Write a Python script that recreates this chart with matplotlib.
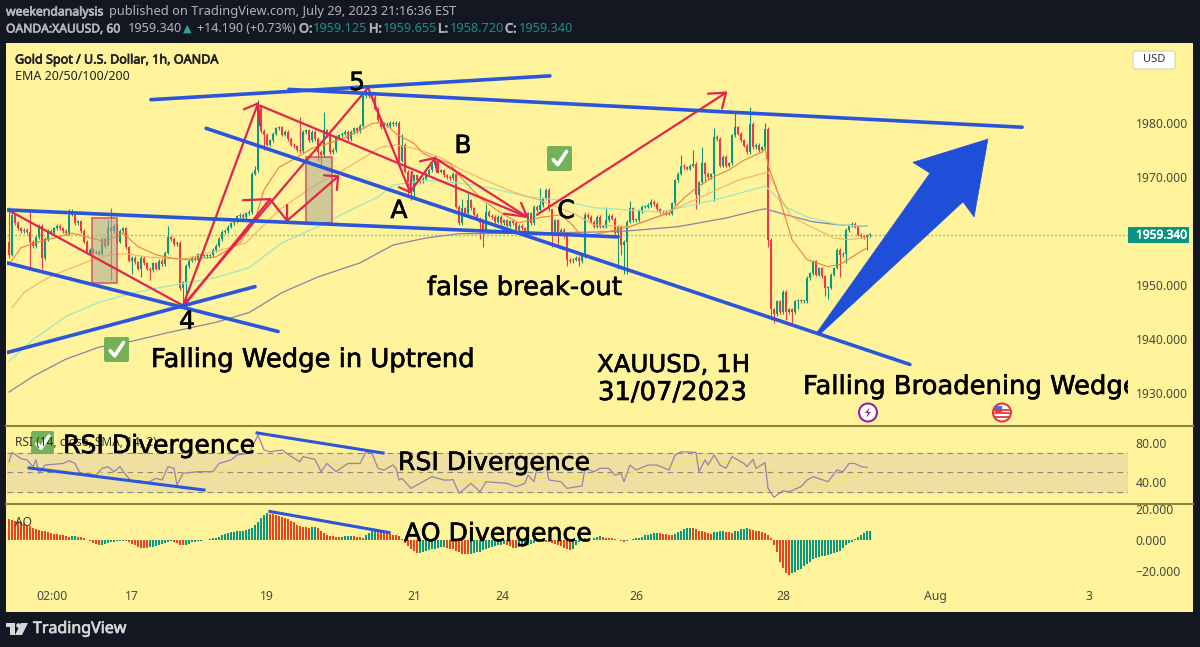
#!/usr/bin/env python
"""
XAUUSD 1h TradingView snapshot with wedge drawings, RSI and AO panes
"""
import matplotlib
matplotlib.use("Agg")
import matplotlib.pyplot as plt
import matplotlib.patheffects as pe
from matplotlib.patches import Rectangle, Polygon, Circle, FancyBboxPatch

closes = [
    1955.6,1963,1961.5,1960.5,1960,1960.2,1959.8,1958,1957.2,1958.8,
    1961,1955,1958.5,1960,1959.7,1960.5,1961,1960.5,1960,1959.6,
    1963,1963.2,1961.5,1961.8,1960,1958,1956,1956.5,1956,1956.2,
    1955.8,1958.5,1957.2,1960.5,1960,1961,1958,1960,1960.5,1957,
    1954.5,1955,1954.2,1953,1955,1954,1953,1952.8,1954,1953,
    1954.5,1953.8,1956,1958.8,1958.5,1957.6,1957.8,1949.5,1950.5,1953.5,
    1954.5,1955,1954.7,1955.7,1955.4,1955.4,1955.3,1955.5,1956.5,1957.3,
    1958.5,1959.8,1960,1960.8,1961.4,1961.7,1962.7,1963,1962.6,1963.3,
    1963.5,1970.6,1971.3,1983.2,1978.5,1977.8,1976,1976.8,1978,1979,
    1979.2,1977.8,1978.3,1977,1976,1975.7,1975,1974.8,1978.3,1978.6,
    1976.8,1978.3,1977,1974.6,1974,1978.6,1977.7,1974.6,1975,1977.4,
    1977.7,1978,1978.3,1977,1978.3,1979,1978.5,1979.5,1985,1985.5,
    1985,1984.8,1982.6,1980.5,1979.2,1979.8,1979.5,1980,1979.8,1980,
    1973,1976,1971,1967.9,1967.3,1970.3,1969.4,1969.2,1969.7,1970.6,
    1971.2,1972.2,1973,1971,1971.2,1970.3,1970,1969.8,1970.6,1964.5,
    1961.4,1964.2,1963.3,1965.7,1964.2,1963,1962.3,1961.4,1960.2,1963.6,
    1962.8,1962.6,1961.7,1962.6,1961.4,1962,1961,1961.8,1961.5,1960.2,
    1961,1960.5,1959.9,1963.3,1961.5,1964.5,1963.8,1964.8,1966,1967.6,
    1964,1959.3,1962,1959.3,1960.2,1959,1954.7,1954.4,1954.7,1955,
    1954.4,1955.3,1963,1962.6,1961.7,1960.8,1962.6,1960.8,1960.8,1962,
    1962.8,1962.3,1959.6,1960.8,1957.4,1958,1961.7,1964.2,1962,1962,
    1963.7,1964.5,1964.5,1964.8,1965.4,1965,1964,1963.5,1963.5,1963.2,
    1963.2,1965.1,1969.4,1970.6,1972.1,1971.8,1971.5,1972.1,1972.4,1966.6,
    1969,1972.5,1970.6,1970,1970.5,1977.4,1977,1972.1,1973.7,1972.1,
    1972.5,1977.7,1979.2,1978,1976.8,1975.8,1974.6,1979.8,1975.5,1976,
    1975,1975.5,1978.9,1958.4,1945.5,1944.6,1947,1945,1948.8,1945,
    1945.5,1945,1947,1947.2,1947,1947,1951.3,1952.2,1954.4,1951.9,
    1953.1,1951.6,1949.5,1949.5,1951.9,1953.1,1956.5,1955.5,1955.8,1960.2,
    1961,1961.3,1960.8,1959.3,1959,1958.8,1959.2,1959.34,
]
# the long wicks, by bar number
wick_highs = {0:1964.5,1:1964.3,7:1963.9,20:1964,21:1964,33:1962,34:1964.3,53:1961,
    82:1972,83:1984.2,84:1982,97:1981,105:1982,119:1986,120:1986.5,121:1985.5,
    131:1978,142:1974,151:1966,153:1967,159:1965,177:1968,179:1968,181:1961,
    192:1963.5,199:1964.5,207:1965.5,214:1966,224:1974,228:1975,231:1975.5,
    235:1979,242:1982,247:1983,252:1980}
wick_lows = {0:1955,7:1952.8,11:1953,33:1958,34:1951,41:1952,44:1951.5,47:1951,
    57:1949,58:1946.5,59:1946.2,85:1975,103:1973,104:1972,133:1966.5,134:1965.8,
    135:1966,157:1958.5,158:1957,181:1957,183:1957,186:1953.5,190:1953.5,
    203:1953,204:1955.5,205:1952,206:1952,229:1964,230:1965,232:1969,235:1965.5,
    253:1957,254:1943.5,255:1943,259:1943.5,261:1943,263:1945.5,272:1948,
    273:1947.5,276:1953,277:1951.5,279:1954,286:1956.5}

ema20_bar = [0,4,10,15,21,26,32,38,43,49,54,59,69,77,82,85,90,96,101,110,117,121,125,129,135,138,141,147,149,154,158,164,170,177,184,188,191,199,207,216,220,225,229,234,240,245,251,252,253,256,261,266,273,277,286]
ema20 = [1953.8,1956.9,1958,1958.7,1959.6,1958.9,1958,1959.6,1957.1,1955.6,1955,1954.7,1955.2,1957.8,1962,1967.6,1971.8,1973.6,1975.3,1976.8,1978.6,1979.9,1980.1,1978,1976.2,1974.4,1973.6,1972.5,1970.9,1967.9,1965.7,1963.3,1961.5,1962.5,1963,1961,1958.9,1959.8,1960.8,1962.6,1963.3,1966.1,1967.9,1969.8,1971.3,1973.1,1974.6,1975.3,1972.2,1967.6,1958.4,1954.7,1953.4,1953.8,1956.9]
ema50_bar = [1,5,10,15,21,28,34,39,46,54,59,75,79,90,101,113,124,129,135,144,150,157,168,177,188,195,207,216,230,243,253,257,261,268,275,279,286]
ema50 = [1945.8,1948.6,1950.4,1951.9,1953.2,1954.7,1955.6,1955.8,1955.2,1954.9,1954.9,1957.1,1957.8,1963.9,1968.1,1971.8,1975.5,1975.9,1975.3,1973.6,1971.6,1969.8,1967.2,1965.7,1963.3,1961.1,1960.8,1962.6,1966.1,1969.4,1970.9,1966.3,1962.6,1960.6,1958.7,1958.4,1958.7]
ema100_bar = [0,8,19,30,39,47,56,69,80,91,103,114,123,128,139,150,161,173,184,195,206,217,228,239,252,253,259,266,277,286]
ema100 = [1935.9,1939.9,1944.2,1946.8,1948.2,1949.2,1950.1,1951.4,1953.2,1957.8,1960.8,1963.9,1966.3,1968.5,1969.4,1968.9,1967.9,1966.3,1965.7,1964.3,1963.9,1963.5,1964.8,1966.3,1968.3,1967.9,1964.4,1962.6,1961.1,1960.9]
ema200_bar = [0,8,19,30,41,53,69,80,91,103,117,128,139,150,173,195,206,223,239,250,252,259,268,277,286]
ema200 = [1930.2,1933.1,1936.3,1938.5,1939.6,1941.2,1943.1,1944.9,1948.6,1951.5,1954.1,1957.4,1958.7,1959.5,1959.6,1959.8,1960,1960.8,1962.4,1963.9,1964.1,1963,1961.7,1961.1,1960.9]

rsi_bar = [0,1,4,6,8,9,10,12,18,20,22,24,26,29,31,33,35,37,39,41,44,46,49,51,53,55,56,58,63,68,70,74,76,80,83,85,87,91,95,97,98,102,104,106,109,113,117,119,121,123,125,128,129,130,131,134,137,141,145,
    147,148,150,154,157,159,166,169,172,173,175,176,179,180,184,186,191,192,195,197,200,202,204,205,207,209,213,216,220,222,224,229,230,232,233,235,237,239,241,245,246,248,249,252,253,255,258,260,264,266,268,273,276,278,280,282,284,286]
rsi = [60.8,70.4,64,62.6,55.7,62.6,48.9,57.4,59,61.9,59,47,48.9,47,54,55.7,50.6,55.7,47,40.3,41,39.3,43.7,42,55.7,54,36.9,48.9,50.6,50.6,59,62.6,67.7,69.4,88.2,72.8,71,72.8,64.3,60.8,66,63.2,50.6,59,50.6,59,59,71,69.4,54,52.3,57.4,54,42,43.7,33.5,38.6,45.5,42,
    42,42.7,28.4,38.6,30,40.3,38.6,35.2,38.6,47,40.3,54,55.7,42,40.3,33.5,35.9,54,50.6,54,54,47,48.9,40.3,57.4,52.3,57.4,57.4,52.3,67.7,71,70.4,50.6,62.6,57.4,67.7,57.4,54,66,59,55.7,63.2,54,59.8,33.5,24.3,31,30,35.2,42,45.5,40.3,52.3,50.6,59,59,55.7,55]
rsi_ma_bar = [0,20,50,58,75,85,95,110,120,130,145,165,180,192,205,215,228,240,252,256,262,272,286]
rsi_ma = [58,52,44,46,52,62,65,58,60,54,43,40,45,43,48,54,62,60,58,50,36,37,50]

ao = [
    13.5,13,12.5,12,11.5,11,10,9,8,7,6.5,6,5.5,5,4.5,4,3.8,3.5,3,2.5,
    2.2,2.4,2.5,2.2,1.8,1,0.3,-0.8,-1.8,-2.8,-3.2,-3,-2.5,-2,-1.5,-1,-0.8,-0.7,-0.5,-0.8,
    -1.5,-2.5,-3.5,-4.5,-5,-5.2,-5.3,-4.8,-4.5,-4,-3.5,-2.5,-1.8,-1,-0.5,-1,-2,-3,-3.2,-3,
    -2.5,-1.5,-1,-0.6,-0.4,-0.2,0.2,0.5,1,1.5,2.2,3,3.8,4.5,5,5.3,5.5,5.8,6,6.2,
    7,8,9.5,11.5,14,16,17.5,17,16.5,16,15.5,15,14.5,13.5,12.5,11.5,10,9,8.5,8.2,
    8,8.2,8.4,7.5,6,4.5,3.5,2.8,2.5,2.2,2,2,2.3,2.5,2.8,2.5,2,1.8,1.5,3,
    4.5,6,6.2,5.8,5.5,5,4.5,4,3.5,3,2.5,0.5,-2,-4,-5.5,-7,-8.5,-8.3,-7.5,-7,
    -6.5,-6,-5.5,-5,-4.5,-4.5,-5,-5.5,-6,-7,-8,-9,-9.2,-9.3,-9,-8.5,-8,-7.5,-6.5,-5.5,
    -5,-4.5,-4,-3.2,-3,-2.5,-3,-4,-5,-5.3,-4.5,-4,-3.5,-3,-2.5,-2,-1.5,-1,-1,-1.2,
    -1.5,-2,-2.5,-3,-4,-5,-6,-6.5,-5.5,-3,-1.5,0.2,1.5,-1,0,1.3,2,2.3,1.8,1.5,
    1.2,1,0.8,0.2,-0.5,-1,-0.8,0,0.5,1,1.5,2,3,3.5,4,4.5,4.8,4.5,4,3.8,
    3.5,3,3.8,5,6,7,7.5,7.8,7.5,7,6,5.5,5,4.5,4,5,5.3,5.5,5.5,5.2,
    5,4.8,5.5,6,6.8,7.2,7.5,7,6.5,6,5.5,5,4.5,3,1,-3,-8,-14,-18,-21,
    -22.5,-21.5,-20.5,-19.5,-18.5,-17,-15.5,-14,-12.5,-11.5,-11,-10.5,-10,-9.5,-9,-8.5,-8,-7,-5,-3.5,
    -2,-1,0.5,2,3,4.5,5.5,6,
]

price_ticks = [1980,1970,1950,1940,1930]
price_labels = ["1980.000","1970.000","1950.000","1940.000","1930.000"]
rsi_ticks = [80,40]
rsi_labels = ["80.00","40.00"]
ao_ticks = [20,0,-20]
ao_labels = ["20.000","0.000","\u221220.000"]
time_ticks = [14.3,41,86,135,164.3,209,258.3,308.7,360]
time_labels = ["02:00","17","19","21","24","26","28","Aug","3"]
last_price = 1959.34

# trendlines as (bar, price) ends
blue_lines = [
    [(47.3,1984.3),(180.3,1988.7)],
    [(93.3,1986.2),(337.7,1979.2)],
    [(65.7,1979),(300.3,1935.3)],
    [(-0.7,1963.9),(203,1958.9)],
    [(-0.7,1954.1),(89.7,1941.4)],
    [(-0.7,1937.5),(82,1949.7)],
]
red_lines = [
    [(-0.7,1964),(58,1946.2)],
    [(58,1946.2),(83,1983.6)],
    [(78.3,1982.5),(83,1983.6),(83.7,1979.5)],
    [(83.7,1983.2),(172.7,1962.6)],
    [(58,1946.2),(119.7,1986.5)],
    [(58.4,1946.2),(87,1965.9)],
    [(78,1965.7),(87,1965.9),(92.7,1961.9)],
    [(92.7,1964.8),(92.7,1961.9),(109.7,1970.1)],
    [(105,1970.3),(109.7,1970.1),(109.3,1967.6)],
    [(119.7,1986.5),(133.7,1967.2)],
    [(130,1968.1),(133.7,1967.2),(134.3,1970.9)],
    [(133.7,1967.2),(142,1973.5)],
    [(137,1972.9),(142,1973.5),(142.7,1970.9)],
    [(142,1973.5),(172.7,1962.6)],
    [(170.7,1965.2),(172.7,1962.6),(165,1963.2)],
    [(176,1963),(239,1985.6)],
    [(233,1985.4),(239,1985.6),(237.7,1982.7)],
]
boxes = [(27.7,36,1950.4,1962.4),(99,107.7,1961.5,1973.6)]
big_arrow = [(269.3,1941.2),(307,1970.7),(301.3,1972.7),(326.3,1977),(321.7,1962.6),(318,1965.4),(270.3,1940.9)]
rsi_blue = [[(6.7,54.4),(65,31.8)],[(82.7,90.3),(124.7,69.7)]]
ao_blue = [[(87,18.4),(126.7,4.8)]]

BG = "#131722"
PANEL = "#FFF39C"
UP = "#089981"
DOWN = "#F23645"
BLUE = "#2B55DA"
CRIMSON = "#E0254F"
AXTXT = "#4A4A3C"

fig = plt.figure(figsize=(12,6.47),dpi=100,facecolor=BG)
plt.rcParams["font.family"] = ["Noto Sans","DejaVu Sans"]

def pane(left,top,right,bottom):
    return fig.add_axes([left/1200,1-bottom/647,(right-left)/1200,(bottom-top)/647])

# yellow chart area sits under every pane
bg = pane(6,43,1193,612)
bg.set_facecolor(PANEL)
bg.set_xticks([])
bg.set_yticks([])
for s in bg.spines.values():
    s.set_visible(False)

XLIM = (-0.667,373)

# price pane
ax = pane(7,44,1128,425)
ax.set_facecolor("none")
ax.set_xlim(XLIM)
ax.set_ylim(1924.1,1994.6)
for i,c in enumerate(closes):
    o = closes[i-1] if i>0 else 1958
    col = UP if c>=o else DOWN
    hi = wick_highs.get(i,max(o,c)+0.3)
    lo = wick_lows.get(i,min(o,c)-0.3)
    ax.vlines(i,lo,hi,color=col,lw=0.8,zorder=2)
    ax.bar(i,max(abs(c-o),0.2),bottom=min(o,c),width=0.85,color=col,zorder=3)
ax.plot(ema200_bar,ema200,color="#8C80A8",lw=0.9,zorder=4)
ax.plot(ema100_bar,ema100,color="#9BE8C2",lw=0.9,zorder=4)
ax.plot(ema50_bar,ema50,color="#F5B06A",lw=0.8,zorder=4)
ax.plot(ema20_bar,ema20,color="#F0803F",lw=0.8,zorder=4)
ax.axhline(last_price,color="#4E9A6E",lw=0.9,ls=(0,(1,2.2)),zorder=2)
for x0,x1,y0,y1 in boxes:
    ax.add_patch(Rectangle((x0,y0),x1-x0,y1-y0,facecolor="#A8A892",alpha=0.55,edgecolor="none",zorder=4))
    ax.add_patch(Rectangle((x0,y0),x1-x0,y1-y0,facecolor="none",edgecolor="#D5506A",lw=1.1,zorder=5))
for path in red_lines:
    ax.plot([p[0] for p in path],[p[1] for p in path],color=CRIMSON,lw=1.6,zorder=6,solid_capstyle="round")
for path in blue_lines:
    ax.plot([p[0] for p in path],[p[1] for p in path],color=BLUE,lw=2.6,zorder=7,solid_capstyle="round")
ax.add_patch(Polygon(big_arrow,closed=True,facecolor="#1F4FD8",edgecolor="#1F4FD8",lw=0.5,zorder=7))
ax.set_xticks([])
ax.yaxis.tick_right()
ax.set_yticks(price_ticks)
ax.set_yticklabels(price_labels,fontsize=8.8,color=AXTXT)
ax.tick_params(axis="y",length=0,pad=5.5)
for s in ax.spines.values():
    s.set_visible(False)

# rsi pane
ax2 = pane(7,427,1128,503)
ax2.set_facecolor("none")
ax2.set_xlim(XLIM)
ax2.set_ylim(80-(503-443)/0.975,80+(443-427)/0.975)
ax2.axhspan(30,70,color="#EFE0A2",zorder=1)
for lev in [70,50,30]:
    ax2.axhline(lev,color="#8A8A70",lw=0.8,ls=(0,(5,4)),zorder=2)
ax2.plot(rsi_ma_bar,rsi_ma,color="#F3E36A",lw=1.0,zorder=3)
ax2.plot(rsi_bar,rsi,color="#9A80AE",lw=0.9,zorder=4)
for path in rsi_blue:
    ax2.plot([p[0] for p in path],[p[1] for p in path],color=BLUE,lw=2.2,zorder=5)
ax2.set_xticks([])
ax2.yaxis.tick_right()
ax2.set_yticks(rsi_ticks)
ax2.set_yticklabels(rsi_labels,fontsize=8.8,color=AXTXT)
ax2.tick_params(axis="y",length=0,pad=5.5)
for s in ax2.spines.values():
    s.set_visible(False)

# ao pane
ax3 = pane(7,505,1128,580)
ax3.set_facecolor("none")
ax3.set_xlim(XLIM)
ax3.set_ylim(-(580-540)/1.55,(540-505)/1.55)
for i,v in enumerate(ao):
    col = UP if i>0 and v>=ao[i-1] else "#F0401E"
    ax3.bar(i,v,width=0.62,color=col,zorder=3)
for path in ao_blue:
    ax3.plot([p[0] for p in path],[p[1] for p in path],color=BLUE,lw=2.2,zorder=5)
ax3.yaxis.tick_right()
ax3.set_yticks(ao_ticks)
ax3.set_yticklabels(ao_labels,fontsize=8.8,color=AXTXT)
ax3.set_xticks(time_ticks)
ax3.set_xticklabels(time_labels,fontsize=8.8,color=AXTXT)
ax3.tick_params(axis="y",length=0,pad=5.5)
ax3.tick_params(axis="x",length=0,pad=7.5)
for s in ax3.spines.values():
    s.set_visible(False)

# pixel overlay for labels and the icons
ov = fig.add_axes([0,0,1,1],zorder=10)
ov.set_xlim(0,1200)
ov.set_ylim(647,0)
ov.axis("off")
ov.patch.set_visible(False)

for y in [426,504]:
    ov.plot([6,1193],[y,y],color="#8C8644",lw=1.5,zorder=1)

def label(x,y,s,size,color="#000000",thick=0,ha="left",family=None):
    kw = {"family":family} if family else {}
    t = ov.text(x,y,s,fontsize=size,color=color,ha=ha,va="center",**kw)
    if thick:
        t.set_path_effects([pe.withStroke(linewidth=thick,foreground=color)])
    return t

GREY = "#B2B5BE"
label(6,12,"weekendanalysis",8.8,GREY,0.5)
label(109,12,"published on TradingView.com, July 29, 2023 21:16:36 EST",9.2,GREY)
label(6,29,"OANDA:XAUUSD, 60",8.7,GREY,0.5)
label(128,29,"1959.340",9.2,GREY)
label(183,29,"\u25B2",8,"#26A69A",family="DejaVu Sans")
label(197,29,"+14.190 (+0.73%)",9.0,GREY)
for x,s in [(299,"O:"),(369,"H:"),(438,"L:"),(505,"C:")]:
    label(x,29,s,9.2,GREY,0.5)
for x,s in [(313,"1959.125"),(383,"1959.655"),(450,"1958.720"),(519,"1959.340")]:
    label(x,29,s,9.2,"#1F8F80")

label(15,60,"Gold Spot / U.S. Dollar, 1h, OANDA",9.05,"#222222",0.5)
label(15,77,"EMA 20/50/100/200",9.0,"#222222")
label(15,442,"RSI (14, close, SMA, 14, 2)",8.6,"#333333")
label(15,522,"AO",8.6,"#333333")

BIG = "DejaVu Sans"
INK = 0.45
label(357,83,"5",18,"#000000",INK,family=BIG,ha="center")
label(463,146,"B",18,"#000000",INK,family=BIG,ha="center")
label(399,211,"A",18,"#000000",INK,family=BIG,ha="center")
label(566,211,"C",18,"#000000",INK,family=BIG,ha="center")
label(187,322,"4",18,"#000000",INK,family=BIG,ha="center")
label(427,288,"false break-out",18.6,"#000000",INK,family=BIG)
label(151,360,"Falling Wedge in Uptrend",18.6,"#000000",INK,family=BIG)
label(597,365,"XAUUSD, 1H",17.6,"#000000",INK,family=BIG)
label(598,393,"31/07/2023",18.6,"#000000",INK,family=BIG)
t = label(803,387,"Falling Broadening Wedge",18.6,"#000000",INK,family=BIG)
t.set_clip_on(True)
t.set_clip_path(Rectangle((0,0),1128,647,transform=ov.transData))
label(63,446,"RSI Divergence",18.1,"#000000",INK,family=BIG)
label(398,463,"RSI Divergence",18.1,"#000000",INK,family=BIG)
label(404,534,"AO Divergence",18.1,"#000000",INK,family=BIG)

# green tick badges
for x,y,w in [(104,337,25),(547,146,25),(31,431,23)]:
    ov.add_patch(FancyBboxPatch((x+2,y+2),w-4,w-4,boxstyle="round,pad=2",facecolor="#6FAE57",edgecolor="none",alpha=0.95))
    ov.plot([x+0.25*w,x+0.43*w,x+0.78*w],[y+0.55*w,y+0.75*w,y+0.22*w],color="white",lw=2.6,solid_capstyle="round")

# event icons
ov.add_patch(Circle((868,412.5),9,facecolor="#FFFFFF",edgecolor="#8E24AA",lw=1.5))
ov.add_patch(Polygon([(870,407),(865,413),(868,413),(866,418),(871,412),(868,412)],closed=True,facecolor="#8E24AA",edgecolor="none"))
ov.add_patch(Circle((1002,412.5),9,facecolor="#FFFFFF",edgecolor="#E03A3E",lw=1.5))
for y in [410,413,416.5]:
    ov.plot([995,1009],[y,y],color="#E03A3E",lw=1.3)
ov.add_patch(Rectangle((995,406),7,6,facecolor="#4A6FD8",edgecolor="none"))

# currency button and last price tag
ov.add_patch(FancyBboxPatch((1135,53),38,14,boxstyle="round,pad=2",facecolor="#FFFFFF",edgecolor="#D8D3A5",lw=0.8))
label(1154,60,"USD",8,"#333333",ha="center")
ov.add_patch(Rectangle((1128,227),61,16,facecolor="#0A947F",edgecolor="none"))
label(1136,235,"1959.340",8.6,"#FFFFFF",0.4)

# logo
ov.add_patch(Rectangle((6,623),9,4,facecolor="#D6D6D6",edgecolor="none"))
ov.add_patch(Rectangle((10,623),5,12,facecolor="#D6D6D6",edgecolor="none"))
ov.add_patch(Circle((18.5,625.5),2.3,facecolor="#D6D6D6",edgecolor="none"))
ov.add_patch(Polygon([(21,623),(28,623),(22,635),(15,635)],closed=True,facecolor="#D6D6D6",edgecolor="none"))
label(33,629,"TradingView",11.5,"#D6D6D6",0.5)

fig.savefig("out.png",dpi=100,facecolor=BG)
plt.close(fig)
